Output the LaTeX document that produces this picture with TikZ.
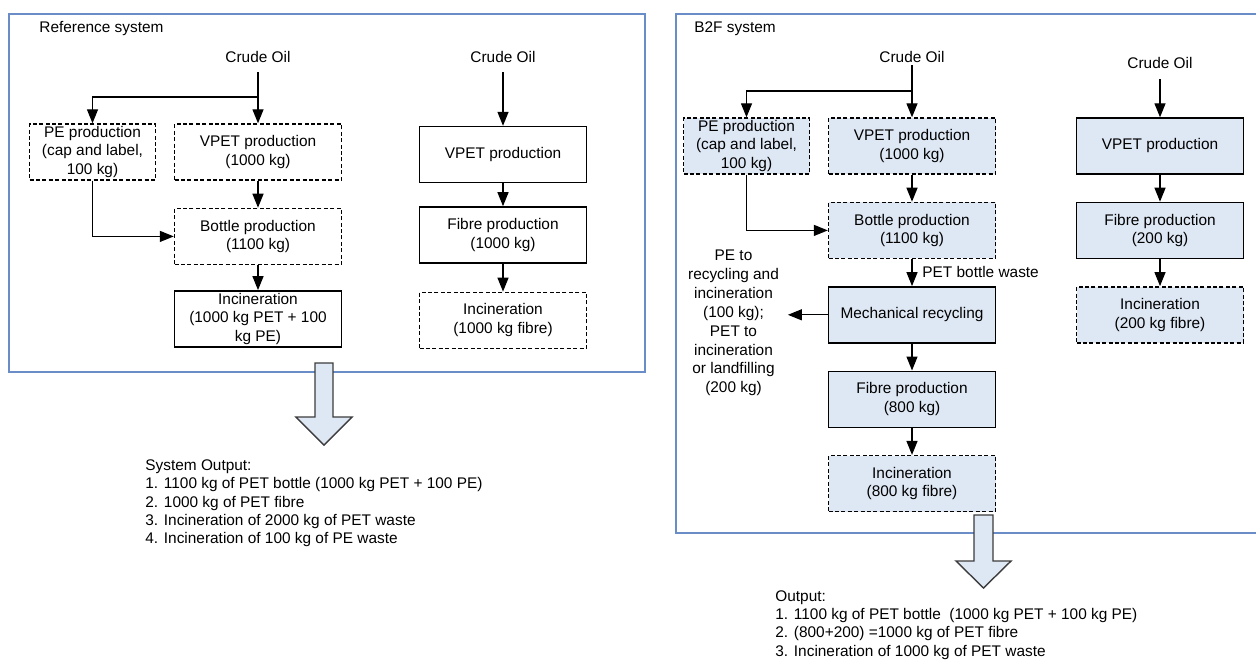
\documentclass[tikz,border=0pt]{standalone}
\usepackage{fontspec}
\setmainfont{Liberation Sans}
\usetikzlibrary{arrows.meta, positioning}
\definecolor{frameblue}{HTML}{6A8DC8}
\definecolor{paleblue}{HTML}{DEE7F4}
\definecolor{arrowgray}{HTML}{3C3C3C}
\tikzstyle{stage} = [rectangle, draw, line width=0.7pt, minimum width=83.5pt,
  minimum height=28pt, inner sep=0pt, align=center]
\tikzstyle{guess} = [stage, dash pattern=on 2pt off 1.2pt]
\tikzstyle{pestage} = [guess, minimum width=63pt]
\tikzstyle{b2f} = [fill=paleblue]
\tikzstyle{oil} = [inner sep=0pt, outer sep=4.75pt]
\tikzstyle{flow} = [line width=0.65pt, -{Triangle[length=7pt, width=5.5pt]}]
\tikzstyle{panel} = [draw=frameblue, line width=0.7pt]
\tikzstyle{bigarrow} = [draw=arrowgray, fill=paleblue, line width=0.7pt, line join=miter]

\begin{document}
\begin{tikzpicture}[x=0.5pt, y=-0.5pt, font=\fontsize{7.7pt}{9.3pt}\selectfont]
  \useasboundingbox (0,0) rectangle (1256,661);

  % reference system
  \draw[panel] (9,14) rectangle (645,372);
  \node[anchor=west, inner sep=0pt] (refhead) at (39,29) {Reference system};
  \node[oil] (oilA) at (258,57) {Crude Oil};
  \node[guess] (vpetA) at (258,152) {VPET production\\(1000 kg)};
  \node[pestage] (peA) at (92.5,152) {PE production\\(cap and label,\\100 kg)};
  \node[guess, below=13.5pt of vpetA] (bottleA) {Bottle production\\(1100 kg)};
  \node[stage, below=12.5pt of bottleA] (incinA) {Incineration\\(1000 kg PET + 100\\kg PE)};
  \coordinate (splitA) at (258,97);
  \draw[flow] (oilA) -- (vpetA);
  \draw[flow] (splitA) -| (peA);
  \draw[flow] (vpetA) -- (bottleA);
  \draw[flow] (peA) |- (bottleA);
  \draw[flow] (bottleA) -- (incinA);

  \node[oil] (oilB) at (503,57) {Crude Oil};
  \node[stage] (vpetB) at (503,154.5) {VPET production};
  \node[stage, below=11.5pt of vpetB] (fibreB) {Fibre production\\(1000 kg)};
  \node[guess, below=14pt of fibreB] (incinB) {Incineration\\(1000 kg fibre)};
  \draw[flow] (oilB) -- (vpetB);
  \draw[flow] (vpetB) -- (fibreB);
  \draw[flow] (fibreB) -- (incinB);

  \draw[bigarrow] (315,363) -- (333,363) -- (333,417) -- (352,417) -- (324,445)
    -- (296,417) -- (315,417) -- cycle;
  \node[anchor=west, align=left, inner sep=0pt, font=\fontsize{7.7pt}{9.15pt}\selectfont]
    (sumA) at (145,503.5) {System Output:\\1. 1100 kg of PET bottle (1000 kg PET + 100 PE)\\
    2. 1000 kg of PET fibre\\3. Incineration of 2000 kg of PET waste\\
    4. Incineration of 100 kg of PE waste};

  % B2F system
  \draw[panel] (676,14) rectangle (1262,533);
  \node[anchor=west, inner sep=0pt] (b2fhead) at (694,29) {B2F system};
  \node[oil, outer sep=1.25pt] (oilC) at (912,57) {Crude Oil};
  \node[guess, b2f] (vpetC) at (912,146) {VPET production\\(1000 kg)};
  \node[pestage, b2f] (peC) at (746.5,146) {PE production\\(cap and label,\\100 kg)};
  \node[guess, b2f, below=13.5pt of vpetC] (bottleC) {Bottle production\\(1100 kg)};
  \node[stage, b2f, below=13.5pt of bottleC] (mechC) {Mechanical recycling};
  \node[stage, b2f, below=13.5pt of mechC] (fibreC) {Fibre production\\(800 kg)};
  \node[guess, b2f, below=13.5pt of fibreC] (incinC) {Incineration\\(800 kg fibre)};
  \coordinate (splitC) at (912,91);
  \node[anchor=west, inner sep=0pt] (wasteC) at (922,272) {PET bottle waste};
  \node[align=center, inner sep=0pt, outer sep=4.5pt, font=\fontsize{7.7pt}{9.45pt}\selectfont]
    (fateC) at (733.5,323) {PE to\\recycling and\\incineration\\(100 kg);\\PET to\\incineration\\or landfilling\\(200 kg)};
  \draw[flow] (oilC) -- (vpetC);
  \draw[flow] (splitC) -| (peC);
  \draw[flow] (vpetC) -- (bottleC);
  \draw[flow] (peC) |- (bottleC);
  \draw[flow] (bottleC) -- (mechC);
  \draw[flow] (mechC) -- (mechC -| fateC.east);
  \draw[flow] (mechC) -- (fibreC);
  \draw[flow] (fibreC) -- (incinC);

  \node[oil, outer sep=5.25pt] (oilD) at (1160,63) {Crude Oil};
  \node[stage, b2f] (vpetD) at (1160,146) {VPET production};
  \node[stage, b2f, below=13.5pt of vpetD] (fibreD) {Fibre production\\(200 kg)};
  \node[guess, b2f, below=13.5pt of fibreD] (incinD) {Incineration\\(200 kg fibre)};
  \draw[flow] (oilD) -- (vpetD);
  \draw[flow] (vpetD) -- (fibreD);
  \draw[flow] (fibreD) -- (incinD);

  \draw[bigarrow] (974,515) -- (993,515) -- (993,561) -- (1011,561) -- (983.5,588)
    -- (956,561) -- (974,561) -- cycle;
  \node[anchor=west, align=left, inner sep=0pt, font=\fontsize{7.7pt}{9.15pt}\selectfont]
    (sumC) at (775,625) {Output:\\1. 1100 kg of PET bottle\ \ (1000 kg PET + 100 kg PE)\\
    2. (800+200) =1000 kg of PET fibre\\3. Incineration of 1000 kg of PET waste};
\end{tikzpicture}
\end{document}
